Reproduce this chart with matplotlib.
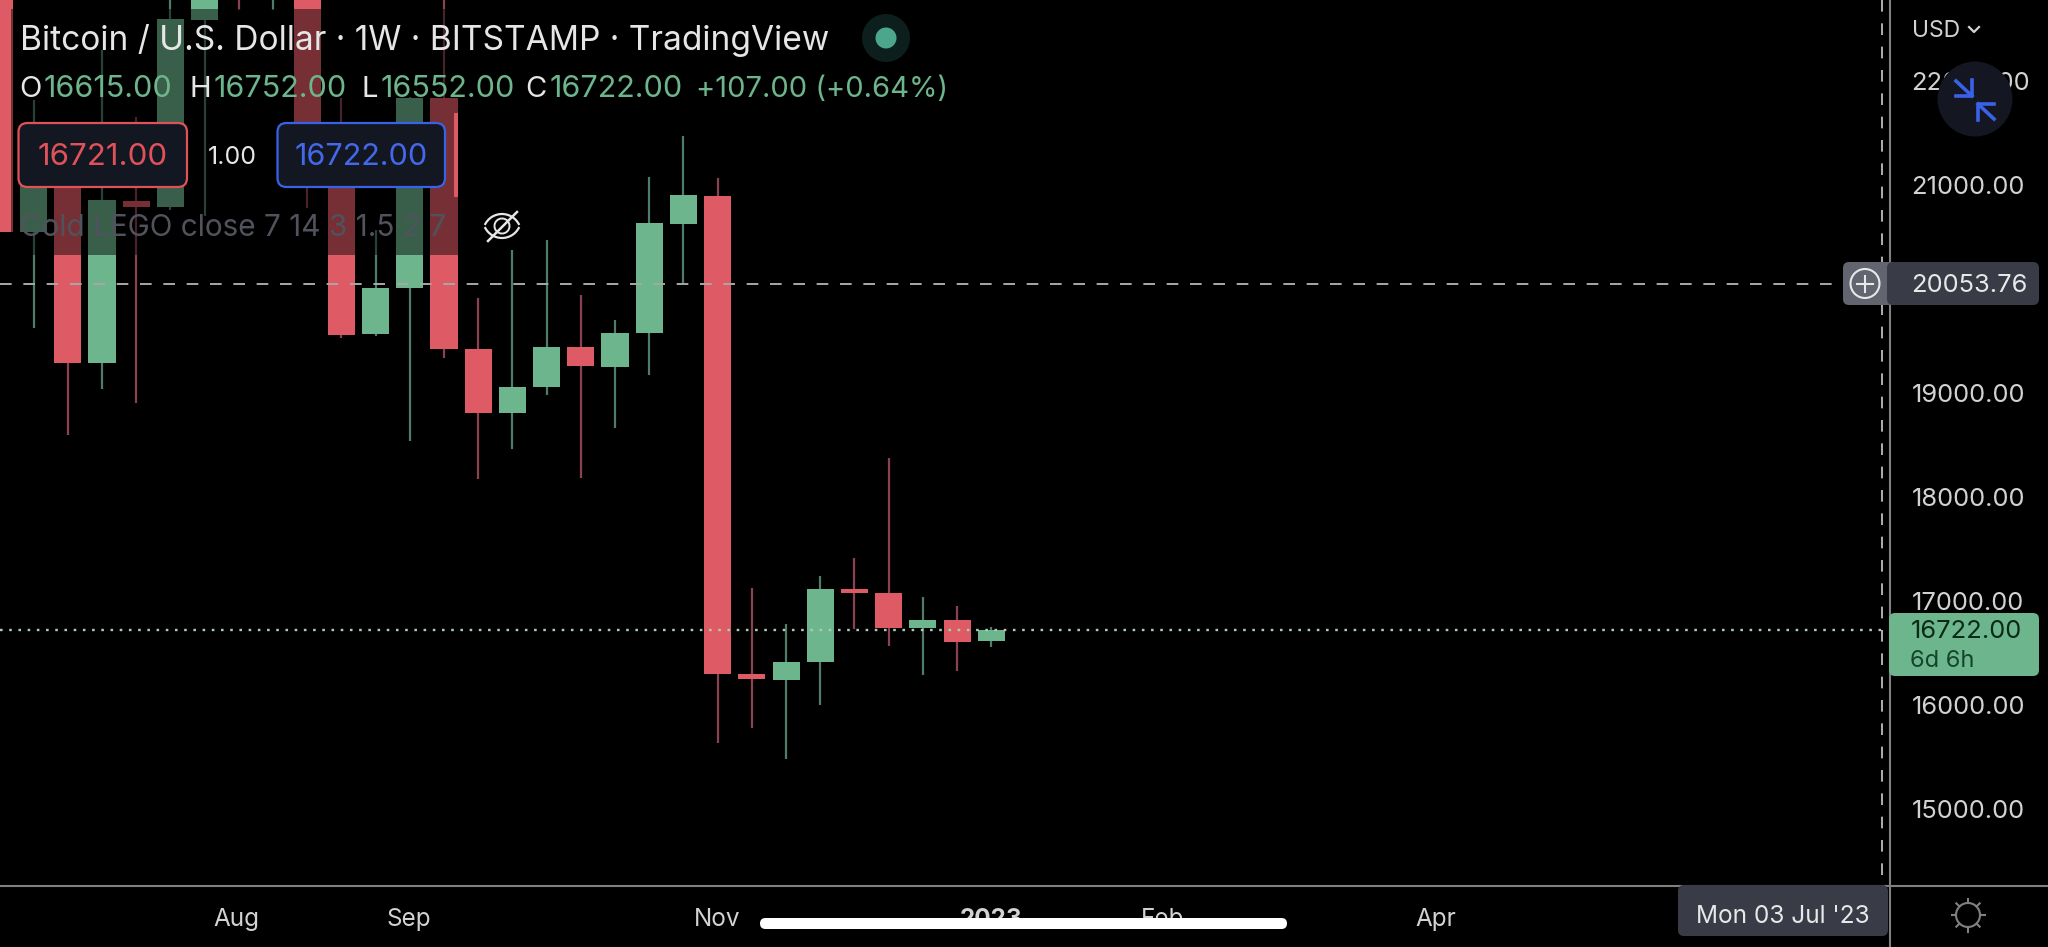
import numpy as np
import matplotlib
matplotlib.use("Agg")
import matplotlib.pyplot as plt
from matplotlib.patches import Circle, FancyBboxPatch, Rectangle, Arc

plt.rcParams["font.family"] = ["Inter", "DejaVu Sans"]

# weekly candles, oldest first
opens = [23200, 20547, 21434, 19285, 20846, 20788, 22590, 23500, 23000, 23300,
         21366, 19565, 20008, 21838, 19420, 18803, 19054, 19439, 19247, 19574,
         20624, 20894, 16299, 16241, 16414, 17117, 17079, 16742, 16819, 16615]
closes = [20547, 21434, 19285, 20855, 20788, 22599, 23350, 23000, 23300, 21241,
          19555, 20008, 21838, 19420, 18803, 19054, 19439, 19256, 19574, 20634,
          20904, 16299, 16250, 16414, 17117, 17079, 16742, 16819, 16607, 16722]
highs = [23400, 21819, 21500, 22300, 21655, 23000, 23600, 23700, 23500, 23400,
         21838, 20566, 21850, 23000, 19911, 20374, 20470, 19940, 19699, 21077,
         21472, 21067, 17127, 16780, 17243, 17416, 18370, 17040, 16954, 16752]
lows = [20547, 19622, 18592, 19035, 18900, 20759, 20701, 22686, 22686, 20778,
        19526, 19545, 18543, 19333, 18168, 18466, 18977, 18187, 18659, 19170,
        20056, 15634, 15778, 15480, 16000, 16732, 16568, 16289, 16327, 16552]

# 20000 sits under the crosshair label in the screenshot, so it has no tick
price_ticks = [15000, 16000, 17000, 18000, 19000, 21000, 22000]
price_tick_labels = ["15000.00", "16000.00", "17000.00", "18000.00",
                     "19000.00", "21000.00", "22000.00"]
month_ticks = [6.93, 11.97, 21, 29, 34, 42]
month_labels = ["Aug", "Sep", "Nov", "2023", "Feb", "Apr"]

last_price = 16722
crosshair_price = 20053.76

W, H = 2048, 947
GREEN = "#6db58c"
RED = "#de5a64"
GREEN_WICK = "#4f7d68"
RED_WICK = "#8a4150"
LABEL = "#d2d2d2"
PANEL = "#393b47"
BLUE = "#3a62e8"

fig = plt.figure(figsize=(W / 100, H / 100), dpi=100, facecolor="black")

# chart pane, right edge 1890px, bottom edge 885.5px
ax = fig.add_axes([0, 1 - 885.5 / H, 1890 / W, 885.5 / H], facecolor="black")
idx = np.arange(len(opens))
opens, closes, highs, lows = map(np.array, (opens, closes, highs, lows))
up = closes >= opens
ax.vlines(idx, lows, highs, colors=np.where(up, GREEN_WICK, RED_WICK), lw=1.6, zorder=1)
ax.bar(idx, np.abs(closes - opens), bottom=np.minimum(opens, closes), width=0.79,
       color=np.where(up, GREEN, RED), zorder=2)
ax.set_xlim(0.0175, 55.28)
ax.set_ylim(14261, 22782)
ax.yaxis.tick_right()
ax.set_yticks(price_ticks)
ax.set_yticklabels(price_tick_labels, color=LABEL, fontsize=18.4)
ax.set_xticks(month_ticks)
ax.set_xticklabels(month_labels, color=LABEL, fontsize=17.5)
ax.get_xticklabels()[3].set_fontweight("bold")
ax.tick_params(axis="y", length=0, pad=15.5)
ax.tick_params(axis="x", length=0, pad=16.5)
for s in ax.spines.values():
    s.set_visible(False)

# overlay in pixel coordinates for the app chrome
ui = fig.add_axes([0, 0, 1, 1], facecolor="none")
ui.set_xlim(0, W)
ui.set_ylim(H, 0)
ui.axis("off")


def label(x, y, s, color=LABEL, size=21, ha="left", **kw):
    ui.text(x, y + 2, s, color=color, fontsize=size, ha=ha, va="center", **kw)


def box(x0, y0, x1, y1, face, edge="none", lw=0, r=6, z=5):
    ui.add_patch(FancyBboxPatch((x0, y0), x1 - x0, y1 - y0,
                                boxstyle=f"round,pad=0,rounding_size={r}",
                                fc=face, ec=edge, lw=lw, zorder=z))


# legend backdrop dims the candles behind it
for x0, x1, y0, y1 in [(11, 458, 9, 113), (11, 454, 113, 197), (11, 458, 197, 255)]:
    ui.add_patch(Rectangle((x0, y0), x1 - x0, y1 - y0, fc="black", alpha=0.47, lw=0, zorder=1))

# crosshair and last price lines
y_cross = H - ax.transData.transform((0, crosshair_price))[1]
y_last = H - ax.transData.transform((0, last_price))[1]
ui.plot([0, 1840], [y_cross, y_cross], color="#a8a8a8", lw=1.4, ls=(0, (6, 6)), zorder=3)
ui.plot([1882, 1882], [0, 885], color="#b0b0b0", lw=1.4, ls=(0, (6, 6)), zorder=3)
ui.plot([0, 1884], [y_last, y_last], color="#a9cdb8", lw=1.7, ls=(0, (1.1, 2.8)), zorder=3)
ui.plot([1890, 1890], [0, H], color="#808080", lw=1.5, zorder=4)
ui.plot([0, W], [885.5, 885.5], color="#808080", lw=1.5, zorder=4)

# header
label(20, 38, "Bitcoin / U.S. Dollar · 1W · BITSTAMP · TradingView", color="#e6e6e6", size=24.1, zorder=6)
ui.add_patch(Circle((886, 38), 24, fc="#0c1f1c", zorder=5))
ui.add_patch(Circle((886, 38), 10.5, fc="#4ba68c", zorder=6))
for x, s, c, fs in [(19, "O", "#e6e6e6", 21), (44, "16615.00", GREEN, 22), (190, "H", "#e6e6e6", 21),
                    (214, "16752.00", GREEN, 22), (362, "L", "#e6e6e6", 21), (381, "16552.00", GREEN, 22),
                    (525, "C", "#e6e6e6", 21), (550, "16722.00", GREEN, 22),
                    (696, "+107.00 (+0.64%)", GREEN, 21)]:
    label(x, 87, s, color=c, size=fs, zorder=6)

# bid / ask buttons
box(18.5, 123, 187, 187, "#131722", "#e0525a", 1.6, r=9)
box(277.5, 123, 445, 187, "#131722", BLUE, 1.6, r=9)
label(103, 155, "16721.00", color="#e0525a", size=22.5, ha="center", zorder=6)
label(232, 155, "1.00", color="#e6e6e6", size=18, ha="center", zorder=6)
label(361, 155, "16722.00", color="#4468ea", size=22, ha="center", zorder=6)

# indicator legend and hidden-eye icon
label(20, 226, "Cold LEGO close 7 14 3 1.5 2 7", color="#50535c", size=21.4, zorder=6)
ui.add_patch(Arc((502, 233), 38, 38, theta1=205, theta2=335, ec="#e6e6e6", lw=1.6, zorder=6))
ui.add_patch(Arc((502, 219), 38, 38, theta1=25, theta2=155, ec="#e6e6e6", lw=1.6, zorder=6))
ui.add_patch(Arc((502, 226), 15, 15, theta1=0, theta2=360, ec="#e6e6e6", lw=1.4, zorder=6))
ui.plot([488, 517], [241, 212], color="#e6e6e6", lw=1.8, zorder=6)

# price scale extras
label(1912, 29, "USD", size=16.5, zorder=6)
ui.plot([1969, 1974, 1979], [27, 32, 27], color=LABEL, lw=1.6, zorder=6)
ui.add_patch(Circle((1975, 99), 37.5, fc="#141722", zorder=5))
ui.plot([1956, 1972], [81, 96], color=BLUE, lw=2.6, zorder=6)
ui.plot([1956, 1972, 1972], [96, 96, 80], color=BLUE, lw=2.6, zorder=6)
ui.plot([1994, 1978], [119, 104], color=BLUE, lw=2.6, zorder=6)
ui.plot([1994, 1978, 1978], [104, 104, 120], color=BLUE, lw=2.6, zorder=6)

box(1843, 262, 1900, 305, "#62656f", z=5)
box(1887, 262, 2039, 305, PANEL, z=5)
ui.add_patch(Circle((1865, 283.5), 14.5, fc="none", ec="#e8e8e8", lw=1.5, zorder=6))
ui.plot([1857, 1873], [283.5, 283.5], color="#e8e8e8", lw=1.5, zorder=6)
ui.plot([1865, 1865], [275.5, 291.5], color="#e8e8e8", lw=1.5, zorder=6)
label(1911, 283, f"{crosshair_price:.2f}", color="#e8e8e8", size=18.4, zorder=6)

box(1889, 613, 2039, 676, GREEN, z=5)
label(1911, 629.5, f"{last_price:.2f}", color="#0b2a18", size=18.4, zorder=6)
label(1910, 658.5, "6d 6h", color="#14452c", size=17, zorder=6)

box(1678, 885, 1888, 936, PANEL, z=5)
label(1783, 914, "Mon 03 Jul '23", color="#e8e8e8", size=17.6, ha="center", zorder=6)

# settings icon
ui.add_patch(Circle((1968, 915), 12, fc="none", ec="#808080", lw=1.5, zorder=6))
for a in np.deg2rad(np.arange(0, 360, 45)):
    ui.plot([1968 + 12 * np.cos(a), 1968 + 16.5 * np.cos(a)],
            [915 + 12 * np.sin(a), 915 + 16.5 * np.sin(a)], color="#808080", lw=1.5, zorder=6)

# iOS home indicator
box(760, 918, 1287, 929, "white", r=5.5, z=7)

fig.savefig("out.png", dpi=100, facecolor="black")
